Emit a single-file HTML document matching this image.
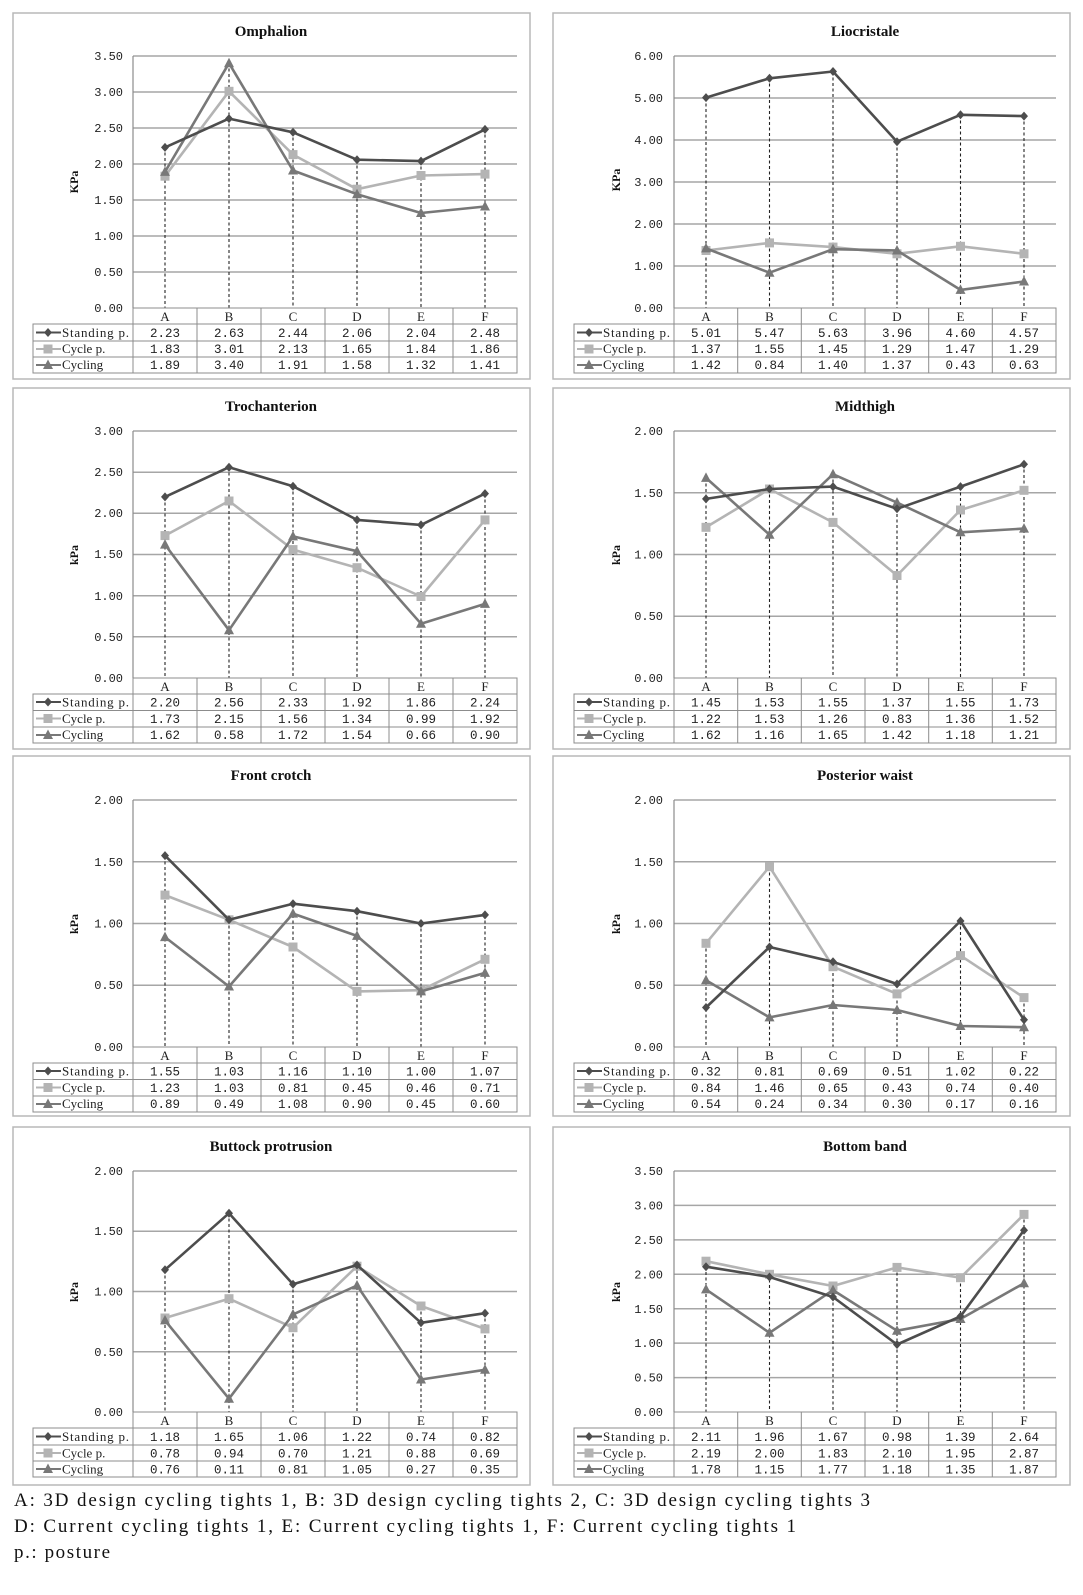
<!DOCTYPE html>
<html><head><meta charset="utf-8"><style>
html,body{margin:0;padding:0;background:#fff;}
svg{display:block;font-family:"Liberation Serif",serif;}
.box{fill:#fff;stroke:#b8b8b8;stroke-width:1.5}
.g{stroke:#a6a6a6;stroke-width:1.5}
.ax{stroke:#8c8c8c;stroke-width:1.2}
.tb{stroke:#8c8c8c;stroke-width:1;fill:none}
.dr{stroke:#222;stroke-width:1.1;stroke-dasharray:3,2.5}
.ti{font-weight:bold;font-size:15px;text-anchor:middle;fill:#111}
.yl{font-size:12px;text-anchor:end;fill:#222;font-family:"Liberation Mono",monospace}
.at{font-weight:bold;font-size:12px;text-anchor:middle;fill:#111}
.tc{font-size:12.5px;text-anchor:middle;fill:#222;font-family:"Liberation Mono",monospace}
.ck{font-size:13px;text-anchor:middle;fill:#222}
.lg{font-size:13px;fill:#222}
.s1{stroke:#4d4d4d;stroke-width:2.6;fill:none;stroke-linejoin:round}
.s2{stroke:#b4b4b4;stroke-width:2.6;fill:none;stroke-linejoin:round}
.s3{stroke:#787878;stroke-width:2.6;fill:none;stroke-linejoin:round}
.m1{fill:#4d4d4d}.m2{fill:#b4b4b4}.m3{fill:#787878}
.fn{font-size:19px;fill:#111}
</style></head><body>
<svg width="1083" height="1595" viewBox="0 0 1083 1595" xmlns="http://www.w3.org/2000/svg">
<defs>
<symbol id="d" overflow="visible"><path d="M0,-4.5L4,0L0,4.5L-4,0Z"/></symbol>
<symbol id="s" overflow="visible"><rect x="-4.5" y="-4.5" width="9" height="9"/></symbol>
<symbol id="t" overflow="visible"><path d="M0,-5.5L5,4L-5,4Z"/></symbol>
</defs>

<!-- ============ PANEL 1: Omphalion ============ -->
<rect class="box" x="13" y="13" width="517" height="366"/>
<text class="ti" x="271" y="36">Omphalion</text>
<g class="g"><line x1="133" x2="517" y1="56" y2="56"/><line x1="133" x2="517" y1="92" y2="92"/><line x1="133" x2="517" y1="128" y2="128"/><line x1="133" x2="517" y1="164" y2="164"/><line x1="133" x2="517" y1="200" y2="200"/><line x1="133" x2="517" y1="236" y2="236"/><line x1="133" x2="517" y1="272" y2="272"/></g>
<line class="ax" x1="133" x2="133" y1="56" y2="308"/>
<g class="yl"><text x="123" y="60">3.50</text><text x="123" y="96">3.00</text><text x="123" y="132">2.50</text><text x="123" y="168">2.00</text><text x="123" y="204">1.50</text><text x="123" y="240">1.00</text><text x="123" y="276">0.50</text><text x="123" y="312">0.00</text></g>
<text class="at" transform="translate(78,182) rotate(-90)">KPa</text>
<g class="dr"><line x1="165" x2="165" y1="147" y2="308"/><line x1="229" x2="229" y1="63" y2="308"/><line x1="293" x2="293" y1="132" y2="308"/><line x1="357" x2="357" y1="160" y2="308"/><line x1="421" x2="421" y1="161" y2="308"/><line x1="485" x2="485" y1="129" y2="308"/></g>
<polyline class="s2" points="165,176.2 229,91.3 293,154.6 357,189.2 421,175.5 485,174.1"/>
<g class="m2"><use href="#s" x="165" y="176.2"/><use href="#s" x="229" y="91.3"/><use href="#s" x="293" y="154.6"/><use href="#s" x="357" y="189.2"/><use href="#s" x="421" y="175.5"/><use href="#s" x="485" y="174.1"/></g>
<polyline class="s3" points="165,171.9 229,63.2 293,170.5 357,194.2 421,213 485,206.5"/>
<g class="m3"><use href="#t" x="165" y="171.9"/><use href="#t" x="229" y="63.2"/><use href="#t" x="293" y="170.5"/><use href="#t" x="357" y="194.2"/><use href="#t" x="421" y="213"/><use href="#t" x="485" y="206.5"/></g>
<polyline class="s1" points="165,147.4 229,118.6 293,132.3 357,159.7 421,161.1 485,129.4"/>
<g class="m1"><use href="#d" x="165" y="147.4"/><use href="#d" x="229" y="118.6"/><use href="#d" x="293" y="132.3"/><use href="#d" x="357" y="159.7"/><use href="#d" x="421" y="161.1"/><use href="#d" x="485" y="129.4"/></g>
<g class="tb"><rect x="133" y="308" width="384" height="16"/><rect x="33" y="324" width="484" height="49"/><line x1="33" x2="517" y1="341" y2="341"/><line x1="33" x2="517" y1="357" y2="357"/><line x1="133" x2="133" y1="324" y2="373"/><line x1="197" x2="197" y1="308" y2="373"/><line x1="261" x2="261" y1="308" y2="373"/><line x1="325" x2="325" y1="308" y2="373"/><line x1="389" x2="389" y1="308" y2="373"/><line x1="453" x2="453" y1="308" y2="373"/></g>
<g class="ck"><text x="165" y="321">A</text><text x="229" y="321">B</text><text x="293" y="321">C</text><text x="357" y="321">D</text><text x="421" y="321">E</text><text x="485" y="321">F</text></g>
<line class="s1" x1="36" x2="61" y1="332.5" y2="332.5" style="stroke-width:2"/><use class="m1" href="#d" x="48" y="332.5"/>
<line class="s2" x1="36" x2="61" y1="349" y2="349" style="stroke-width:2"/><use class="m2" href="#s" x="48" y="349"/>
<line class="s3" x1="36" x2="61" y1="365" y2="365" style="stroke-width:2"/><use class="m3" href="#t" x="48" y="365"/>
<g class="lg"><text x="62" y="337" textLength="67">Standing p.</text><text x="62" y="353">Cycle p.</text><text x="62" y="369">Cycling</text></g>
<g class="tc"><text x="165" y="337">2.23</text><text x="229" y="337">2.63</text><text x="293" y="337">2.44</text><text x="357" y="337">2.06</text><text x="421" y="337">2.04</text><text x="485" y="337">2.48</text>
<text x="165" y="353">1.83</text><text x="229" y="353">3.01</text><text x="293" y="353">2.13</text><text x="357" y="353">1.65</text><text x="421" y="353">1.84</text><text x="485" y="353">1.86</text>
<text x="165" y="369">1.89</text><text x="229" y="369">3.40</text><text x="293" y="369">1.91</text><text x="357" y="369">1.58</text><text x="421" y="369">1.32</text><text x="485" y="369">1.41</text></g>

<!-- ============ PANEL 2: Liocristale ============ -->
<rect class="box" x="553" y="13" width="517" height="366"/>
<text class="ti" x="865" y="36">Liocristale</text>
<g class="g"><line x1="674" x2="1056" y1="56" y2="56"/><line x1="674" x2="1056" y1="98" y2="98"/><line x1="674" x2="1056" y1="140" y2="140"/><line x1="674" x2="1056" y1="182" y2="182"/><line x1="674" x2="1056" y1="224" y2="224"/><line x1="674" x2="1056" y1="266" y2="266"/></g>
<line class="ax" x1="674" x2="674" y1="56" y2="308"/>
<g class="yl"><text x="663" y="60">6.00</text><text x="663" y="102">5.00</text><text x="663" y="144">4.00</text><text x="663" y="186">3.00</text><text x="663" y="228">2.00</text><text x="663" y="270">1.00</text><text x="663" y="312">0.00</text></g>
<text class="at" transform="translate(620,180) rotate(-90)">KPa</text>
<g class="dr"><line x1="706" x2="706" y1="98" y2="308"/><line x1="769.5" x2="769.5" y1="78" y2="308"/><line x1="833" x2="833" y1="72" y2="308"/><line x1="897" x2="897" y1="142" y2="308"/><line x1="960.5" x2="960.5" y1="115" y2="308"/><line x1="1024" x2="1024" y1="116" y2="308"/></g>
<polyline class="s2" points="706,250.5 769.5,242.9 833,247.1 897,253.8 960.5,246.3 1024,253.8"/>
<g class="m2"><use href="#s" x="706" y="250.5"/><use href="#s" x="769.5" y="242.9"/><use href="#s" x="833" y="247.1"/><use href="#s" x="897" y="253.8"/><use href="#s" x="960.5" y="246.3"/><use href="#s" x="1024" y="253.8"/></g>
<polyline class="s3" points="706,248.4 769.5,272.7 833,249.2 897,250.5 960.5,289.9 1024,281.5"/>
<g class="m3"><use href="#t" x="706" y="248.4"/><use href="#t" x="769.5" y="272.7"/><use href="#t" x="833" y="249.2"/><use href="#t" x="897" y="250.5"/><use href="#t" x="960.5" y="289.9"/><use href="#t" x="1024" y="281.5"/></g>
<polyline class="s1" points="706,97.6 769.5,78.3 833,71.5 897,141.7 960.5,114.8 1024,116.1"/>
<g class="m1"><use href="#d" x="706" y="97.6"/><use href="#d" x="769.5" y="78.3"/><use href="#d" x="833" y="71.5"/><use href="#d" x="897" y="141.7"/><use href="#d" x="960.5" y="114.8"/><use href="#d" x="1024" y="116.1"/></g>
<g class="tb"><rect x="674" y="308" width="382" height="16"/><rect x="574" y="324" width="482" height="49"/><line x1="574" x2="1056" y1="341" y2="341"/><line x1="574" x2="1056" y1="357" y2="357"/><line x1="674" x2="674" y1="324" y2="373"/><line x1="737.7" x2="737.7" y1="308" y2="373"/><line x1="801.3" x2="801.3" y1="308" y2="373"/><line x1="865" x2="865" y1="308" y2="373"/><line x1="928.7" x2="928.7" y1="308" y2="373"/><line x1="992.3" x2="992.3" y1="308" y2="373"/></g>
<g class="ck"><text x="706" y="321">A</text><text x="769.5" y="321">B</text><text x="833" y="321">C</text><text x="897" y="321">D</text><text x="960.5" y="321">E</text><text x="1024" y="321">F</text></g>
<line class="s1" x1="577" x2="602" y1="332.5" y2="332.5" style="stroke-width:2"/><use class="m1" href="#d" x="589" y="332.5"/>
<line class="s2" x1="577" x2="602" y1="349" y2="349" style="stroke-width:2"/><use class="m2" href="#s" x="589" y="349"/>
<line class="s3" x1="577" x2="602" y1="365" y2="365" style="stroke-width:2"/><use class="m3" href="#t" x="589" y="365"/>
<g class="lg"><text x="603" y="337" textLength="67">Standing p.</text><text x="603" y="353">Cycle p.</text><text x="603" y="369">Cycling</text></g>
<g class="tc"><text x="706" y="337">5.01</text><text x="769.5" y="337">5.47</text><text x="833" y="337">5.63</text><text x="897" y="337">3.96</text><text x="960.5" y="337">4.60</text><text x="1024" y="337">4.57</text>
<text x="706" y="353">1.37</text><text x="769.5" y="353">1.55</text><text x="833" y="353">1.45</text><text x="897" y="353">1.29</text><text x="960.5" y="353">1.47</text><text x="1024" y="353">1.29</text>
<text x="706" y="369">1.42</text><text x="769.5" y="369">0.84</text><text x="833" y="369">1.40</text><text x="897" y="369">1.37</text><text x="960.5" y="369">0.43</text><text x="1024" y="369">0.63</text></g>

<!-- ============ PANEL 3: Trochanterion ============ -->
<rect class="box" x="13" y="388" width="517" height="361"/>
<text class="ti" x="271" y="411">Trochanterion</text>
<g class="g"><line x1="133" x2="517" y1="431" y2="431"/><line x1="133" x2="517" y1="472.2" y2="472.2"/><line x1="133" x2="517" y1="513.3" y2="513.3"/><line x1="133" x2="517" y1="554.5" y2="554.5"/><line x1="133" x2="517" y1="595.7" y2="595.7"/><line x1="133" x2="517" y1="636.8" y2="636.8"/></g>
<line class="ax" x1="133" x2="133" y1="431" y2="678"/>
<g class="yl"><text x="123" y="435">3.00</text><text x="123" y="476">2.50</text><text x="123" y="517">2.00</text><text x="123" y="558">1.50</text><text x="123" y="600">1.00</text><text x="123" y="641">0.50</text><text x="123" y="682">0.00</text></g>
<text class="at" transform="translate(78,555) rotate(-90)">kPa</text>
<g class="dr"><line x1="165" x2="165" y1="497" y2="678"/><line x1="229" x2="229" y1="467" y2="678"/><line x1="293" x2="293" y1="486" y2="678"/><line x1="357" x2="357" y1="520" y2="678"/><line x1="421" x2="421" y1="525" y2="678"/><line x1="485" x2="485" y1="494" y2="678"/></g>
<polyline class="s2" points="165,535.6 229,501 293,549.6 357,567.7 421,596.5 485,519.9"/>
<g class="m2"><use href="#s" x="165" y="535.6"/><use href="#s" x="229" y="501"/><use href="#s" x="293" y="549.6"/><use href="#s" x="357" y="567.7"/><use href="#s" x="421" y="596.5"/><use href="#s" x="485" y="519.9"/></g>
<polyline class="s3" points="165,544.6 229,630.2 293,536.4 357,551.2 421,623.7 485,603.9"/>
<g class="m3"><use href="#t" x="165" y="544.6"/><use href="#t" x="229" y="630.2"/><use href="#t" x="293" y="536.4"/><use href="#t" x="357" y="551.2"/><use href="#t" x="421" y="623.7"/><use href="#t" x="485" y="603.9"/></g>
<polyline class="s1" points="165,496.9 229,467.2 293,486.2 357,519.9 421,524.9 485,493.6"/>
<g class="m1"><use href="#d" x="165" y="496.9"/><use href="#d" x="229" y="467.2"/><use href="#d" x="293" y="486.2"/><use href="#d" x="357" y="519.9"/><use href="#d" x="421" y="524.9"/><use href="#d" x="485" y="493.6"/></g>
<g class="tb"><rect x="133" y="678" width="384" height="16"/><rect x="33" y="694" width="484" height="49"/><line x1="33" x2="517" y1="710.5" y2="710.5"/><line x1="33" x2="517" y1="727" y2="727"/><line x1="133" x2="133" y1="694" y2="743"/><line x1="197" x2="197" y1="678" y2="743"/><line x1="261" x2="261" y1="678" y2="743"/><line x1="325" x2="325" y1="678" y2="743"/><line x1="389" x2="389" y1="678" y2="743"/><line x1="453" x2="453" y1="678" y2="743"/></g>
<g class="ck"><text x="165" y="691">A</text><text x="229" y="691">B</text><text x="293" y="691">C</text><text x="357" y="691">D</text><text x="421" y="691">E</text><text x="485" y="691">F</text></g>
<line class="s1" x1="36" x2="61" y1="702" y2="702" style="stroke-width:2"/><use class="m1" href="#d" x="48" y="702"/>
<line class="s2" x1="36" x2="61" y1="718.5" y2="718.5" style="stroke-width:2"/><use class="m2" href="#s" x="48" y="718.5"/>
<line class="s3" x1="36" x2="61" y1="735" y2="735" style="stroke-width:2"/><use class="m3" href="#t" x="48" y="735"/>
<g class="lg"><text x="62" y="706.5" textLength="67">Standing p.</text><text x="62" y="723">Cycle p.</text><text x="62" y="739">Cycling</text></g>
<g class="tc"><text x="165" y="706.5">2.20</text><text x="229" y="706.5">2.56</text><text x="293" y="706.5">2.33</text><text x="357" y="706.5">1.92</text><text x="421" y="706.5">1.86</text><text x="485" y="706.5">2.24</text>
<text x="165" y="723">1.73</text><text x="229" y="723">2.15</text><text x="293" y="723">1.56</text><text x="357" y="723">1.34</text><text x="421" y="723">0.99</text><text x="485" y="723">1.92</text>
<text x="165" y="739">1.62</text><text x="229" y="739">0.58</text><text x="293" y="739">1.72</text><text x="357" y="739">1.54</text><text x="421" y="739">0.66</text><text x="485" y="739">0.90</text></g>

<!-- ============ PANEL 4: Midthigh ============ -->
<rect class="box" x="553" y="388" width="517" height="361"/>
<text class="ti" x="865" y="411">Midthigh</text>
<g class="g"><line x1="674" x2="1056" y1="431" y2="431"/><line x1="674" x2="1056" y1="492.75" y2="492.75"/><line x1="674" x2="1056" y1="554.5" y2="554.5"/><line x1="674" x2="1056" y1="616.25" y2="616.25"/></g>
<line class="ax" x1="674" x2="674" y1="431" y2="678"/>
<g class="yl"><text x="663" y="435">2.00</text><text x="663" y="497">1.50</text><text x="663" y="558.5">1.00</text><text x="663" y="620">0.50</text><text x="663" y="682">0.00</text></g>
<text class="at" transform="translate(620,555) rotate(-90)">kPa</text>
<g class="dr"><line x1="706" x2="706" y1="478" y2="678"/><line x1="769.5" x2="769.5" y1="489" y2="678"/><line x1="833" x2="833" y1="474" y2="678"/><line x1="897" x2="897" y1="503" y2="678"/><line x1="960.5" x2="960.5" y1="487" y2="678"/><line x1="1024" x2="1024" y1="464" y2="678"/></g>
<polyline class="s2" points="706,527.3 769.5,489 833,522.4 897,575.5 960.5,510 1024,490.3"/>
<g class="m2"><use href="#s" x="706" y="527.3"/><use href="#s" x="769.5" y="489"/><use href="#s" x="833" y="522.4"/><use href="#s" x="897" y="575.5"/><use href="#s" x="960.5" y="510"/><use href="#s" x="1024" y="490.3"/></g>
<polyline class="s3" points="706,477.9 769.5,534.7 833,474.2 897,502.6 960.5,532.3 1024,528.6"/>
<g class="m3"><use href="#t" x="706" y="477.9"/><use href="#t" x="769.5" y="534.7"/><use href="#t" x="833" y="474.2"/><use href="#t" x="897" y="502.6"/><use href="#t" x="960.5" y="532.3"/><use href="#t" x="1024" y="528.6"/></g>
<polyline class="s1" points="706,498.9 769.5,489 833,486.6 897,508.8 960.5,486.6 1024,464.3"/>
<g class="m1"><use href="#d" x="706" y="498.9"/><use href="#d" x="769.5" y="489"/><use href="#d" x="833" y="486.6"/><use href="#d" x="897" y="508.8"/><use href="#d" x="960.5" y="486.6"/><use href="#d" x="1024" y="464.3"/></g>
<g class="tb"><rect x="674" y="678" width="382" height="16"/><rect x="574" y="694" width="482" height="49"/><line x1="574" x2="1056" y1="710.5" y2="710.5"/><line x1="574" x2="1056" y1="727" y2="727"/><line x1="674" x2="674" y1="694" y2="743"/><line x1="737.7" x2="737.7" y1="678" y2="743"/><line x1="801.3" x2="801.3" y1="678" y2="743"/><line x1="865" x2="865" y1="678" y2="743"/><line x1="928.7" x2="928.7" y1="678" y2="743"/><line x1="992.3" x2="992.3" y1="678" y2="743"/></g>
<g class="ck"><text x="706" y="691">A</text><text x="769.5" y="691">B</text><text x="833" y="691">C</text><text x="897" y="691">D</text><text x="960.5" y="691">E</text><text x="1024" y="691">F</text></g>
<line class="s1" x1="577" x2="602" y1="702" y2="702" style="stroke-width:2"/><use class="m1" href="#d" x="589" y="702"/>
<line class="s2" x1="577" x2="602" y1="718.5" y2="718.5" style="stroke-width:2"/><use class="m2" href="#s" x="589" y="718.5"/>
<line class="s3" x1="577" x2="602" y1="735" y2="735" style="stroke-width:2"/><use class="m3" href="#t" x="589" y="735"/>
<g class="lg"><text x="603" y="706.5" textLength="67">Standing p.</text><text x="603" y="723">Cycle p.</text><text x="603" y="739">Cycling</text></g>
<g class="tc"><text x="706" y="706.5">1.45</text><text x="769.5" y="706.5">1.53</text><text x="833" y="706.5">1.55</text><text x="897" y="706.5">1.37</text><text x="960.5" y="706.5">1.55</text><text x="1024" y="706.5">1.73</text>
<text x="706" y="723">1.22</text><text x="769.5" y="723">1.53</text><text x="833" y="723">1.26</text><text x="897" y="723">0.83</text><text x="960.5" y="723">1.36</text><text x="1024" y="723">1.52</text>
<text x="706" y="739">1.62</text><text x="769.5" y="739">1.16</text><text x="833" y="739">1.65</text><text x="897" y="739">1.42</text><text x="960.5" y="739">1.18</text><text x="1024" y="739">1.21</text></g>

<!-- ============ PANEL 5: Front crotch ============ -->
<rect class="box" x="13" y="756" width="517" height="360"/>
<text class="ti" x="271" y="780">Front crotch</text>
<g class="g"><line x1="133" x2="517" y1="800" y2="800"/><line x1="133" x2="517" y1="861.75" y2="861.75"/><line x1="133" x2="517" y1="923.5" y2="923.5"/><line x1="133" x2="517" y1="985.25" y2="985.25"/></g>
<line class="ax" x1="133" x2="133" y1="800" y2="1047"/>
<g class="yl"><text x="123" y="804">2.00</text><text x="123" y="866">1.50</text><text x="123" y="927.5">1.00</text><text x="123" y="989">0.50</text><text x="123" y="1051">0.00</text></g>
<text class="at" transform="translate(78,924) rotate(-90)">kPa</text>
<g class="dr"><line x1="165" x2="165" y1="856" y2="1047"/><line x1="229" x2="229" y1="920" y2="1047"/><line x1="293" x2="293" y1="904" y2="1047"/><line x1="357" x2="357" y1="911" y2="1047"/><line x1="421" x2="421" y1="923" y2="1047"/><line x1="485" x2="485" y1="915" y2="1047"/></g>
<polyline class="s2" points="165,895.1 229,919.8 293,947 357,991.4 421,990.2 485,959.3"/>
<g class="m2"><use href="#s" x="165" y="895.1"/><use href="#s" x="229" y="919.8"/><use href="#s" x="293" y="947"/><use href="#s" x="357" y="991.4"/><use href="#s" x="421" y="990.2"/><use href="#s" x="485" y="959.3"/></g>
<polyline class="s3" points="165,937.1 229,986.5 293,913.6 357,935.9 421,991.4 485,972.9"/>
<g class="m3"><use href="#t" x="165" y="937.1"/><use href="#t" x="229" y="986.5"/><use href="#t" x="293" y="913.6"/><use href="#t" x="357" y="935.9"/><use href="#t" x="421" y="991.4"/><use href="#t" x="485" y="972.9"/></g>
<polyline class="s1" points="165,855.6 229,919.8 293,903.7 357,911.2 421,923.5 485,914.9"/>
<g class="m1"><use href="#d" x="165" y="855.6"/><use href="#d" x="229" y="919.8"/><use href="#d" x="293" y="903.7"/><use href="#d" x="357" y="911.2"/><use href="#d" x="421" y="923.5"/><use href="#d" x="485" y="914.9"/></g>
<g class="tb"><rect x="133" y="1047" width="384" height="16"/><rect x="33" y="1063" width="484" height="49"/><line x1="33" x2="517" y1="1079.5" y2="1079.5"/><line x1="33" x2="517" y1="1096" y2="1096"/><line x1="133" x2="133" y1="1063" y2="1112"/><line x1="197" x2="197" y1="1047" y2="1112"/><line x1="261" x2="261" y1="1047" y2="1112"/><line x1="325" x2="325" y1="1047" y2="1112"/><line x1="389" x2="389" y1="1047" y2="1112"/><line x1="453" x2="453" y1="1047" y2="1112"/></g>
<g class="ck"><text x="165" y="1060">A</text><text x="229" y="1060">B</text><text x="293" y="1060">C</text><text x="357" y="1060">D</text><text x="421" y="1060">E</text><text x="485" y="1060">F</text></g>
<line class="s1" x1="36" x2="61" y1="1071" y2="1071" style="stroke-width:2"/><use class="m1" href="#d" x="48" y="1071"/>
<line class="s2" x1="36" x2="61" y1="1087.5" y2="1087.5" style="stroke-width:2"/><use class="m2" href="#s" x="48" y="1087.5"/>
<line class="s3" x1="36" x2="61" y1="1104" y2="1104" style="stroke-width:2"/><use class="m3" href="#t" x="48" y="1104"/>
<g class="lg"><text x="62" y="1075.5" textLength="67">Standing p.</text><text x="62" y="1092">Cycle p.</text><text x="62" y="1108">Cycling</text></g>
<g class="tc"><text x="165" y="1075.5">1.55</text><text x="229" y="1075.5">1.03</text><text x="293" y="1075.5">1.16</text><text x="357" y="1075.5">1.10</text><text x="421" y="1075.5">1.00</text><text x="485" y="1075.5">1.07</text>
<text x="165" y="1092">1.23</text><text x="229" y="1092">1.03</text><text x="293" y="1092">0.81</text><text x="357" y="1092">0.45</text><text x="421" y="1092">0.46</text><text x="485" y="1092">0.71</text>
<text x="165" y="1108">0.89</text><text x="229" y="1108">0.49</text><text x="293" y="1108">1.08</text><text x="357" y="1108">0.90</text><text x="421" y="1108">0.45</text><text x="485" y="1108">0.60</text></g>

<!-- ============ PANEL 6: Posterior waist ============ -->
<rect class="box" x="553" y="756" width="517" height="360"/>
<text class="ti" x="865" y="780">Posterior waist</text>
<g class="g"><line x1="674" x2="1056" y1="800" y2="800"/><line x1="674" x2="1056" y1="861.75" y2="861.75"/><line x1="674" x2="1056" y1="923.5" y2="923.5"/><line x1="674" x2="1056" y1="985.25" y2="985.25"/></g>
<line class="ax" x1="674" x2="674" y1="800" y2="1047"/>
<g class="yl"><text x="663" y="804">2.00</text><text x="663" y="866">1.50</text><text x="663" y="927.5">1.00</text><text x="663" y="989">0.50</text><text x="663" y="1051">0.00</text></g>
<text class="at" transform="translate(620,924) rotate(-90)">kPa</text>
<g class="dr"><line x1="706" x2="706" y1="943" y2="1047"/><line x1="769.5" x2="769.5" y1="867" y2="1047"/><line x1="833" x2="833" y1="962" y2="1047"/><line x1="897" x2="897" y1="984" y2="1047"/><line x1="960.5" x2="960.5" y1="921" y2="1047"/><line x1="1024" x2="1024" y1="998" y2="1047"/></g>
<polyline class="s2" points="706,943.3 769.5,866.7 833,966.7 897,993.9 960.5,955.6 1024,997.6"/>
<g class="m2"><use href="#s" x="706" y="943.3"/><use href="#s" x="769.5" y="866.7"/><use href="#s" x="833" y="966.7"/><use href="#s" x="897" y="993.9"/><use href="#s" x="960.5" y="955.6"/><use href="#s" x="1024" y="997.6"/></g>
<polyline class="s3" points="706,980.3 769.5,1017.4 833,1005 897,1010 960.5,1026 1024,1027.2"/>
<g class="m3"><use href="#t" x="706" y="980.3"/><use href="#t" x="769.5" y="1017.4"/><use href="#t" x="833" y="1005"/><use href="#t" x="897" y="1010"/><use href="#t" x="960.5" y="1026"/><use href="#t" x="1024" y="1027.2"/></g>
<polyline class="s1" points="706,1007.5 769.5,947 833,961.8 897,984 960.5,921 1024,1019.8"/>
<g class="m1"><use href="#d" x="706" y="1007.5"/><use href="#d" x="769.5" y="947"/><use href="#d" x="833" y="961.8"/><use href="#d" x="897" y="984"/><use href="#d" x="960.5" y="921"/><use href="#d" x="1024" y="1019.8"/></g>
<g class="tb"><rect x="674" y="1047" width="382" height="16"/><rect x="574" y="1063" width="482" height="49"/><line x1="574" x2="1056" y1="1079.5" y2="1079.5"/><line x1="574" x2="1056" y1="1096" y2="1096"/><line x1="674" x2="674" y1="1063" y2="1112"/><line x1="737.7" x2="737.7" y1="1047" y2="1112"/><line x1="801.3" x2="801.3" y1="1047" y2="1112"/><line x1="865" x2="865" y1="1047" y2="1112"/><line x1="928.7" x2="928.7" y1="1047" y2="1112"/><line x1="992.3" x2="992.3" y1="1047" y2="1112"/></g>
<g class="ck"><text x="706" y="1060">A</text><text x="769.5" y="1060">B</text><text x="833" y="1060">C</text><text x="897" y="1060">D</text><text x="960.5" y="1060">E</text><text x="1024" y="1060">F</text></g>
<line class="s1" x1="577" x2="602" y1="1071" y2="1071" style="stroke-width:2"/><use class="m1" href="#d" x="589" y="1071"/>
<line class="s2" x1="577" x2="602" y1="1087.5" y2="1087.5" style="stroke-width:2"/><use class="m2" href="#s" x="589" y="1087.5"/>
<line class="s3" x1="577" x2="602" y1="1104" y2="1104" style="stroke-width:2"/><use class="m3" href="#t" x="589" y="1104"/>
<g class="lg"><text x="603" y="1075.5" textLength="67">Standing p.</text><text x="603" y="1092">Cycle p.</text><text x="603" y="1108">Cycling</text></g>
<g class="tc"><text x="706" y="1075.5">0.32</text><text x="769.5" y="1075.5">0.81</text><text x="833" y="1075.5">0.69</text><text x="897" y="1075.5">0.51</text><text x="960.5" y="1075.5">1.02</text><text x="1024" y="1075.5">0.22</text>
<text x="706" y="1092">0.84</text><text x="769.5" y="1092">1.46</text><text x="833" y="1092">0.65</text><text x="897" y="1092">0.43</text><text x="960.5" y="1092">0.74</text><text x="1024" y="1092">0.40</text>
<text x="706" y="1108">0.54</text><text x="769.5" y="1108">0.24</text><text x="833" y="1108">0.34</text><text x="897" y="1108">0.30</text><text x="960.5" y="1108">0.17</text><text x="1024" y="1108">0.16</text></g>

<!-- ============ PANEL 7: Buttock protrusion ============ -->
<rect class="box" x="13" y="1127" width="517" height="358"/>
<text class="ti" x="271" y="1151">Buttock protrusion</text>
<g class="g"><line x1="133" x2="517" y1="1171" y2="1171"/><line x1="133" x2="517" y1="1231.25" y2="1231.25"/><line x1="133" x2="517" y1="1291.5" y2="1291.5"/><line x1="133" x2="517" y1="1351.75" y2="1351.75"/></g>
<line class="ax" x1="133" x2="133" y1="1171" y2="1412"/>
<g class="yl"><text x="123" y="1175">2.00</text><text x="123" y="1235">1.50</text><text x="123" y="1295.5">1.00</text><text x="123" y="1356">0.50</text><text x="123" y="1416">0.00</text></g>
<text class="at" transform="translate(78,1292) rotate(-90)">kPa</text>
<g class="dr"><line x1="165" x2="165" y1="1270" y2="1412"/><line x1="229" x2="229" y1="1213" y2="1412"/><line x1="293" x2="293" y1="1284" y2="1412"/><line x1="357" x2="357" y1="1265" y2="1412"/><line x1="421" x2="421" y1="1306" y2="1412"/><line x1="485" x2="485" y1="1313" y2="1412"/></g>
<polyline class="s2" points="165,1318 229,1298.7 293,1327.7 357,1266.2 421,1306 485,1328.9"/>
<g class="m2"><use href="#s" x="165" y="1318"/><use href="#s" x="229" y="1298.7"/><use href="#s" x="293" y="1327.7"/><use href="#s" x="357" y="1266.2"/><use href="#s" x="421" y="1306"/><use href="#s" x="485" y="1328.9"/></g>
<polyline class="s3" points="165,1320.4 229,1398.7 293,1314.4 357,1285.5 421,1379.5 485,1369.8"/>
<g class="m3"><use href="#t" x="165" y="1320.4"/><use href="#t" x="229" y="1398.7"/><use href="#t" x="293" y="1314.4"/><use href="#t" x="357" y="1285.5"/><use href="#t" x="421" y="1379.5"/><use href="#t" x="485" y="1369.8"/></g>
<polyline class="s1" points="165,1269.8 229,1213.2 293,1284.3 357,1265 421,1322.8 485,1313.2"/>
<g class="m1"><use href="#d" x="165" y="1269.8"/><use href="#d" x="229" y="1213.2"/><use href="#d" x="293" y="1284.3"/><use href="#d" x="357" y="1265"/><use href="#d" x="421" y="1322.8"/><use href="#d" x="485" y="1313.2"/></g>
<g class="tb"><rect x="133" y="1412" width="384" height="16"/><rect x="33" y="1428" width="484" height="49"/><line x1="33" x2="517" y1="1445" y2="1445"/><line x1="33" x2="517" y1="1461" y2="1461"/><line x1="133" x2="133" y1="1428" y2="1477"/><line x1="197" x2="197" y1="1412" y2="1477"/><line x1="261" x2="261" y1="1412" y2="1477"/><line x1="325" x2="325" y1="1412" y2="1477"/><line x1="389" x2="389" y1="1412" y2="1477"/><line x1="453" x2="453" y1="1412" y2="1477"/></g>
<g class="ck"><text x="165" y="1425">A</text><text x="229" y="1425">B</text><text x="293" y="1425">C</text><text x="357" y="1425">D</text><text x="421" y="1425">E</text><text x="485" y="1425">F</text></g>
<line class="s1" x1="36" x2="61" y1="1436.5" y2="1436.5" style="stroke-width:2"/><use class="m1" href="#d" x="48" y="1436.5"/>
<line class="s2" x1="36" x2="61" y1="1453" y2="1453" style="stroke-width:2"/><use class="m2" href="#s" x="48" y="1453"/>
<line class="s3" x1="36" x2="61" y1="1469" y2="1469" style="stroke-width:2"/><use class="m3" href="#t" x="48" y="1469"/>
<g class="lg"><text x="62" y="1441" textLength="67">Standing p.</text><text x="62" y="1457.5">Cycle p.</text><text x="62" y="1473.5">Cycling</text></g>
<g class="tc"><text x="165" y="1441">1.18</text><text x="229" y="1441">1.65</text><text x="293" y="1441">1.06</text><text x="357" y="1441">1.22</text><text x="421" y="1441">0.74</text><text x="485" y="1441">0.82</text>
<text x="165" y="1457.5">0.78</text><text x="229" y="1457.5">0.94</text><text x="293" y="1457.5">0.70</text><text x="357" y="1457.5">1.21</text><text x="421" y="1457.5">0.88</text><text x="485" y="1457.5">0.69</text>
<text x="165" y="1473.5">0.76</text><text x="229" y="1473.5">0.11</text><text x="293" y="1473.5">0.81</text><text x="357" y="1473.5">1.05</text><text x="421" y="1473.5">0.27</text><text x="485" y="1473.5">0.35</text></g>

<!-- ============ PANEL 8: Bottom band ============ -->
<rect class="box" x="553" y="1127" width="517" height="358"/>
<text class="ti" x="865" y="1151">Bottom band</text>
<g class="g"><line x1="674" x2="1056" y1="1171" y2="1171"/><line x1="674" x2="1056" y1="1205.4" y2="1205.4"/><line x1="674" x2="1056" y1="1239.9" y2="1239.9"/><line x1="674" x2="1056" y1="1274.3" y2="1274.3"/><line x1="674" x2="1056" y1="1308.7" y2="1308.7"/><line x1="674" x2="1056" y1="1343.1" y2="1343.1"/><line x1="674" x2="1056" y1="1377.6" y2="1377.6"/></g>
<line class="ax" x1="674" x2="674" y1="1171" y2="1412"/>
<g class="yl"><text x="663" y="1175">3.50</text><text x="663" y="1209.5">3.00</text><text x="663" y="1244">2.50</text><text x="663" y="1278.5">2.00</text><text x="663" y="1313">1.50</text><text x="663" y="1347">1.00</text><text x="663" y="1381.5">0.50</text><text x="663" y="1416">0.00</text></g>
<text class="at" transform="translate(620,1292) rotate(-90)">kPa</text>
<g class="dr"><line x1="706" x2="706" y1="1261" y2="1412"/><line x1="769.5" x2="769.5" y1="1274" y2="1412"/><line x1="833" x2="833" y1="1286" y2="1412"/><line x1="897" x2="897" y1="1267" y2="1412"/><line x1="960.5" x2="960.5" y1="1278" y2="1412"/><line x1="1024" x2="1024" y1="1214" y2="1412"/></g>
<polyline class="s2" points="706,1261.2 769.5,1274.3 833,1286 897,1267.4 960.5,1277.7 1024,1214.4"/>
<g class="m2"><use href="#s" x="706" y="1261.2"/><use href="#s" x="769.5" y="1274.3"/><use href="#s" x="833" y="1286"/><use href="#s" x="897" y="1267.4"/><use href="#s" x="960.5" y="1277.7"/><use href="#s" x="1024" y="1214.4"/></g>
<polyline class="s3" points="706,1289.4 769.5,1332.8 833,1290.1 897,1330.7 960.5,1319 1024,1283.2"/>
<g class="m3"><use href="#t" x="706" y="1289.4"/><use href="#t" x="769.5" y="1332.8"/><use href="#t" x="833" y="1290.1"/><use href="#t" x="897" y="1330.7"/><use href="#t" x="960.5" y="1319"/><use href="#t" x="1024" y="1283.2"/></g>
<polyline class="s1" points="706,1266.7 769.5,1277 833,1297 897,1344.5 960.5,1316.3 1024,1230.2"/>
<g class="m1"><use href="#d" x="706" y="1266.7"/><use href="#d" x="769.5" y="1277"/><use href="#d" x="833" y="1297"/><use href="#d" x="897" y="1344.5"/><use href="#d" x="960.5" y="1316.3"/><use href="#d" x="1024" y="1230.2"/></g>
<g class="tb"><rect x="674" y="1412" width="382" height="16"/><rect x="574" y="1428" width="482" height="49"/><line x1="574" x2="1056" y1="1445" y2="1445"/><line x1="574" x2="1056" y1="1461" y2="1461"/><line x1="674" x2="674" y1="1428" y2="1477"/><line x1="737.7" x2="737.7" y1="1412" y2="1477"/><line x1="801.3" x2="801.3" y1="1412" y2="1477"/><line x1="865" x2="865" y1="1412" y2="1477"/><line x1="928.7" x2="928.7" y1="1412" y2="1477"/><line x1="992.3" x2="992.3" y1="1412" y2="1477"/></g>
<g class="ck"><text x="706" y="1425">A</text><text x="769.5" y="1425">B</text><text x="833" y="1425">C</text><text x="897" y="1425">D</text><text x="960.5" y="1425">E</text><text x="1024" y="1425">F</text></g>
<line class="s1" x1="577" x2="602" y1="1436.5" y2="1436.5" style="stroke-width:2"/><use class="m1" href="#d" x="589" y="1436.5"/>
<line class="s2" x1="577" x2="602" y1="1453" y2="1453" style="stroke-width:2"/><use class="m2" href="#s" x="589" y="1453"/>
<line class="s3" x1="577" x2="602" y1="1469" y2="1469" style="stroke-width:2"/><use class="m3" href="#t" x="589" y="1469"/>
<g class="lg"><text x="603" y="1441" textLength="67">Standing p.</text><text x="603" y="1457.5">Cycle p.</text><text x="603" y="1473.5">Cycling</text></g>
<g class="tc"><text x="706" y="1441">2.11</text><text x="769.5" y="1441">1.96</text><text x="833" y="1441">1.67</text><text x="897" y="1441">0.98</text><text x="960.5" y="1441">1.39</text><text x="1024" y="1441">2.64</text>
<text x="706" y="1457.5">2.19</text><text x="769.5" y="1457.5">2.00</text><text x="833" y="1457.5">1.83</text><text x="897" y="1457.5">2.10</text><text x="960.5" y="1457.5">1.95</text><text x="1024" y="1457.5">2.87</text>
<text x="706" y="1473.5">1.78</text><text x="769.5" y="1473.5">1.15</text><text x="833" y="1473.5">1.77</text><text x="897" y="1473.5">1.18</text><text x="960.5" y="1473.5">1.35</text><text x="1024" y="1473.5">1.87</text></g>

<!-- footnotes -->
<g class="fn">
<text x="14" y="1506" textLength="856" lengthAdjust="spacing">A: 3D design cycling tights 1, B: 3D design cycling tights 2, C: 3D design cycling tights 3</text>
<text x="14" y="1532" textLength="782" lengthAdjust="spacing">D: Current cycling tights 1, E: Current cycling tights 1, F: Current cycling tights 1</text>
<text x="14" y="1558" textLength="96" lengthAdjust="spacing">p.: posture</text>
</g>
</svg>
</body></html>
